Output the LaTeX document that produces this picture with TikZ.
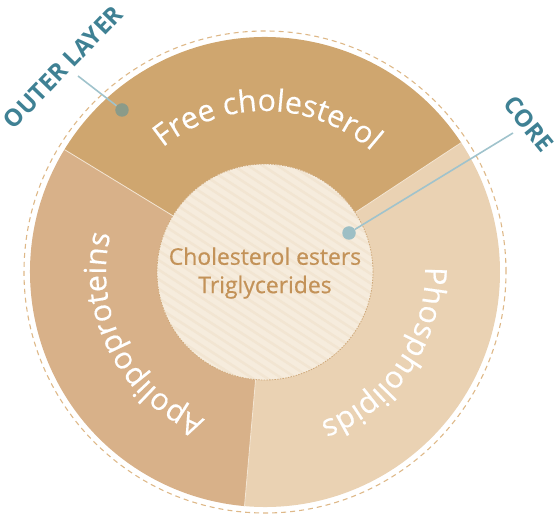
\documentclass[tikz,border=0pt]{standalone}
\usepackage{fontspec}
\setmainfont{Open Sans}
\newfontfamily\semib[FakeBold=0.6]{Open Sans}
\newfontfamily\arcfont[FakeBold=0.4]{Open Sans}
\usetikzlibrary{decorations.text}
\definecolor{fc}{HTML}{CFA66F}
\definecolor{apo}{HTML}{D8B189}
\definecolor{pho}{HTML}{EAD2B3}
\definecolor{corefill}{HTML}{F6ECDD}
\definecolor{corestripe}{HTML}{F2E5D2}
\definecolor{coretext}{HTML}{C39258}
\definecolor{tealtext}{HTML}{3F8194}
\definecolor{ptrline}{HTML}{A0C3CC}
\definecolor{dotA}{HTML}{8B9B89}
\definecolor{dotB}{HTML}{9DBFC5}
\definecolor{dashcol}{HTML}{DEB888}
\definecolor{sepline}{HTML}{F3E5D2}
\tikzset{
  wedge/.style={draw=sepline, line width=0.8bp},
  outerdash/.style={draw=dashcol, line width=1.1bp, dash pattern=on 5bp off 4bp},
  coreborder/.style={draw=coretext!80, line width=0.8bp, dash pattern=on 1.5bp off 1.2bp},
  stripe/.style={draw=corestripe, line width=2.5bp},
  tagtext/.style={text=tealtext, font=\bfseries\fontsize{24}{28}\selectfont, inner sep=0pt},
  ptr/.style={draw=ptrline, line width=1.6bp},
  ptrdot/.style={circle, inner sep=0pt, minimum size=13.5bp},
  arctext/.style={decorate, decoration={text along path, text align=center, text={|\arcfont\fontsize{30.5}{34}\selectfont\color{white}|#1}}}
}
\begin{document}
\begin{tikzpicture}[x=1bp, y=1bp]
\useasboundingbox (-265,-242) rectangle (291,272);
% outer dashed ring
\draw[outerdash] (0,0) circle[radius=241];
% wedges
\fill[pho] (0,0) -- (-95:235) arc[start angle=-95, end angle=33.4, radius=235] -- cycle;
\fill[fc] (0,0) -- (33.4:235) arc[start angle=33.4, end angle=148.6, radius=235] -- cycle;
\fill[apo] (0,0) -- (148.6:235) arc[start angle=148.6, end angle=265, radius=235] -- cycle;
\draw[wedge] (0,0) -- (33.4:235);
\draw[wedge] (0,0) -- (148.6:235);
\draw[wedge] (0,0) -- (265:235);
% core
\fill[corefill] (0,0) circle[radius=108];
\begin{scope}
  \clip (0,0) circle[radius=108];
  \begin{scope}[rotate=-33]
    \foreach \i in {-16,...,16} { \draw[stripe] (-130,\i*8) -- (130,\i*8); }
  \end{scope}
\end{scope}
\draw[coreborder] (0,0) circle[radius=108];
\node[text=coretext, align=center, font=\semib\fontsize{23}{28.5}\selectfont] (coretxt) at (0,-1) {Cholesterol esters\\Triglycerides};
% curved labels
\path[arctext={Free cholesterol}] (160:161) arc[start angle=160, end angle=18, radius=161];
\path[arctext={Apolipoproteins}] (258:159) arc[start angle=258, end angle=156, radius=159];
\path[arctext={Phospholipids}] (14:160) arc[start angle=14, end angle=-82, radius=160];
% tags
\node[tagtext, rotate=46] (outer) at (-202,205) {OUTER LAYER};
\node[tagtext, rotate=-51] (coretag) at (264,148) {CORE};
\coordinate (outerstart) at (-187,196);
\coordinate (corestart) at (248,139);
\node[ptrdot, fill=dotA] (dotouter) at (-143,162) {};
\node[ptrdot, fill=dotB] (dotcore) at (84,39) {};
\draw[ptr] (outerstart) -- (dotouter);
\draw[ptr] (corestart) -- (dotcore);
\end{tikzpicture}
\end{document}
